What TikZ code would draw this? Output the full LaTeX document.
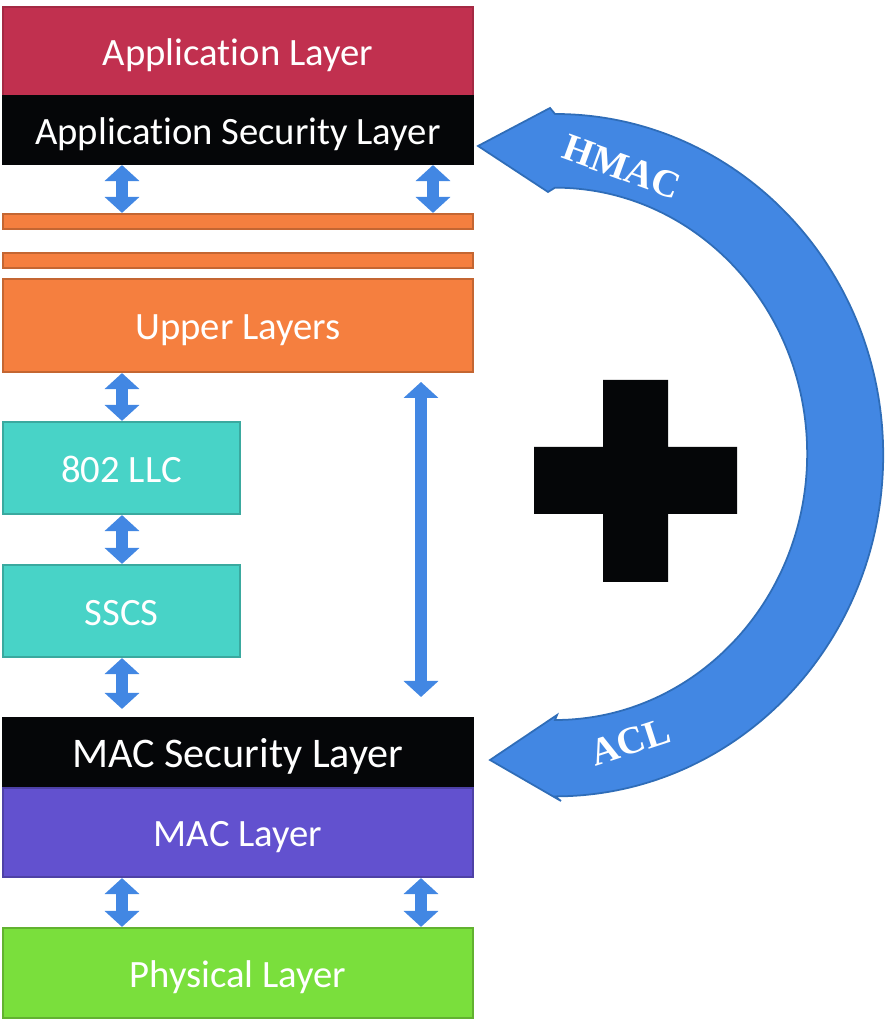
\documentclass[tikz,border=0pt]{standalone}
\usepackage{fontspec}
\setmainfont{Carlito}[Ligatures=NoCommon]
\newfontfamily\arclabelfont{Liberation Serif}
\usetikzlibrary{arrows.meta}
\definecolor{applred}{HTML}{C1304F}
\definecolor{secblack}{HTML}{050608}
\definecolor{upperorange}{HTML}{F57F3F}
\definecolor{llcteal}{HTML}{48D3C7}
\definecolor{macpurple}{HTML}{6251CF}
\definecolor{phygreen}{HTML}{7ADF3C}
\definecolor{arrowblue}{HTML}{4287E3}
\definecolor{arrowedge}{HTML}{2F6DB8}

\begin{document}
\begin{tikzpicture}[x=0.01cm, y=0.01cm,
    layer/.style={draw, line width=0.6pt, text=white, inner sep=0pt,
      text height=0.8em, text depth=0pt,
      minimum width=4.7cm, font=\fontsize{11}{13}\selectfont},
    thinbar/.style={layer, fill=upperorange, draw=upperorange!80!black,
      text height=0pt, minimum height=0.15cm},
    updown/.style={line width=0.12cm, draw=arrowblue,
      {Triangle[length=0.16cm,width=0.34cm]}-{Triangle[length=0.16cm,width=0.34cm]}},
    arclabel/.style={text=white, font=\arclabelfont\bfseries\fontsize{11}{13}\selectfont}]
			%%%%% START %%%%%
			\useasboundingbox (0,0) rectangle (888,1025);
			
			% protocol stack
			\node[layer, fill=applred, draw=applred!85!black, minimum height=0.89cm] (app) at (238,973.5) {Application Layer};
			\node[layer, fill=secblack, draw=secblack, minimum height=0.68cm] (appsec) at (238,895) {Application Security Layer};
			\node[thinbar] (bartop) at (238,803.5) {};
			\node[thinbar] (barmid) at (238,764.5) {};
			\node[layer, fill=upperorange, draw=upperorange!80!black, minimum height=0.93cm] (upper) at (238,699.5) {Upper Layers};
			\node[layer, fill=llcteal, draw=llcteal!80!black, minimum width=2.37cm, minimum height=0.92cm] (llc) at (121.5,557) {802 LLC};
			\node[layer, fill=llcteal, draw=llcteal!80!black, minimum width=2.37cm, minimum height=0.92cm] (sscs) at (121.5,414) {SSCS};
			\node[layer, fill=secblack, draw=secblack, minimum height=0.70cm, font=\fontsize{12}{14}\selectfont] (macsec) at (238,272) {MAC Security Layer};
			\node[layer, fill=macpurple, draw=macpurple!80!black, minimum height=0.89cm] (mac) at (238,192.5) {MAC Layer};
			\node[layer, fill=phygreen, draw=phygreen!80!black, minimum height=0.90cm] (phy) at (238,52) {Physical Layer};
			
			% columns of the small arrows
			\coordinate (colL) at (122,0);
			\coordinate (colR) at (433,0);
			\coordinate (colR2) at (421,0);
			\coordinate (longtop) at (421,643);
			\coordinate (longbot) at (421,328);
			
			\draw[updown] (appsec.south -| colL) -- (bartop.north -| colL);
			\draw[updown] (appsec.south -| colR) -- (bartop.north -| colR);
			\draw[updown] (upper.south -| colL) -- (llc.north -| colL);
			\draw[updown] (llc.south -| colL) -- (sscs.north -| colL);
			\draw[updown, shorten >=0.08cm] (sscs.south -| colL) -- (macsec.north -| colL);
			\draw[updown] (longtop) -- (longbot);
			\draw[updown] (mac.south -| colL) -- (phy.north -| colL);
			\draw[updown] (mac.south -| colR2) -- (phy.north -| colR2);
			
			% curved arrow
			\draw[fill=arrowblue, draw=arrowedge, line width=0.5pt] (478,879) -- (550,917) -- (555,911)
			  arc[start angle=90, end angle=-90, x radius=3.28cm, y radius=3.41cm]
			  -- (561,224) -- (490,265) -- (557,310) -- (555,305)
			  arc[start angle=-90, end angle=90, x radius=2.52cm, y radius=2.66cm]
			  -- (548,833) -- cycle;
			\node[arclabel, rotate=-20] (hmac) at (622,858) {HMAC};
			\node[arclabel, rotate=18] (acl) at (630,283) {ACL};
			
			% plus sign
			\fill[secblack] (603,645) -- (668,645) -- (668,578) -- (737,578) -- (737,511) -- (668,511)
			  -- (668,443) -- (603,443) -- (603,511) -- (534,511) -- (534,578) -- (603,578) -- cycle;
			
			%%%%% END %%%%%
\end{tikzpicture}
\end{document}
